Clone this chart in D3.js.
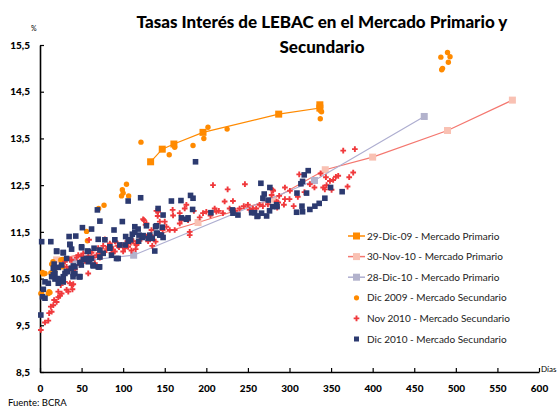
<!DOCTYPE html>
<html>
<head>
<meta charset="utf-8">
<script src="https://cdn.jsdelivr.net/npm/d3@7"></script>
<style>
  body { margin: 0; background: #fff; }
  svg { font-family: "Lato", "DejaVu Sans", sans-serif; }
</style>
</head>
<body>
<div id="container"></div>
<script>
// plazo (dias), tasa (%)
const primDic09 = [[133, 13.0], [147, 13.27], [161, 13.38], [196, 13.63], [287, 14.02], [336.5, 14.15], [336.5, 14.22]];
const primNov10 = [[20, 10.9], [110, 11.28], [190, 11.7], [280, 12.2], [343, 12.83], [400, 13.1], [490, 13.67], [568, 14.32]];
const primDic10 = [[42, 10.86], [112.6, 11.0], [330, 12.6], [462, 13.97]];

const secDic09 = [[482, 15.24], [490, 15.34], [493, 15.25], [491, 15.13], [484, 15.0], [483, 14.97],
  [121.4, 13.42], [155.4, 13.15], [162, 13.31], [184, 13.35], [197, 13.5], [202, 13.74], [225, 13.7],
  [337, 14.1], [338.5, 14.07], [337, 13.92], [104, 12.52], [99, 12.4], [98, 12.27], [106.6, 12.27],
  [100, 12.33], [77, 12.07], [70.5, 12.0], [56, 11.51], [57, 11.31], [27, 10.91], [14, 10.81],
  [3, 10.63], [6, 10.61], [4, 10.6], [13, 10.62], [1, 10.18], [12, 10.2], [10, 10.18], [40, 10.68],
  [15.6, 10.86], [25, 10.9], [23.7, 10.75], [27.6, 10.75], [17.6, 10.65], [2, 10.18], [11, 10.22]];

const secNov10 = [[1, 9.4], [6, 9.56], [10, 9.6], [11, 9.76], [14, 9.79], [13, 9.9], [16, 9.93], [17, 10.04],
  [20, 10.0], [22, 10.1], [24, 10.13], [22, 10.22], [26, 10.18], [32, 10.26], [34, 10.22], [36, 10.4],
  [38, 10.36], [30, 10.43], [40, 10.38], [39, 10.27], [58, 10.61], [48, 10.79], [25, 10.36], [36, 10.72],
  [42, 10.7], [30, 10.86], [38, 10.9], [46, 11.0], [52, 11.04], [58, 10.98], [60, 11.08], [68, 11.0],
  [72, 11.02], [70, 11.15], [76, 11.2], [80, 11.11], [84, 11.25], [90, 11.3], [94, 11.2], [90, 11.08],
  [100, 11.08], [106, 11.18], [115, 11.13], [116, 11.22], [122, 11.35], [125, 11.75], [128, 11.68],
  [134, 11.54], [135, 11.2], [140, 11.95], [141.5, 11.84], [144, 11.72], [147.5, 11.54], [150, 11.72],
  [152, 11.61], [156, 11.54], [159.5, 11.97], [162, 11.54], [168, 11.9], [170, 11.75], [168, 11.68],
  [174, 12.0], [176, 12.08], [178, 11.75], [180, 11.5], [180, 11.43], [192, 11.81], [196, 11.9],
  [200, 11.93], [208, 12.5], [210, 12.0], [212, 11.93], [220, 11.9], [222, 12.15], [225.6, 12.41],
  [228, 12.0], [232, 12.16], [240, 12.0], [246.4, 12.52], [250, 12.08], [252, 11.97], [256, 12.0],
  [264, 12.08], [274, 12.09], [278.5, 12.29], [279.6, 12.4], [284.5, 12.15], [287.6, 12.27],
  [294.5, 12.45], [300.5, 12.38], [280.4, 12.38], [294.5, 12.2], [286.4, 12.13], [293.3, 12.08],
  [285.2, 12.02], [311.7, 12.73], [324.5, 12.52], [337.4, 12.75], [343.8, 12.67], [348.6, 12.59],
  [352.5, 12.61], [355.8, 12.68], [358.6, 12.7], [340.5, 12.45], [342.5, 12.41], [344.6, 12.5],
  [350.6, 12.4], [364.6, 13.24], [378.6, 13.27], [371.8, 12.67], [376.6, 12.77], [369.8, 12.47],
  [59, 11.33], [78, 11.34], [91, 11.29], [95, 11.17], [109, 11.27], [116, 11.24], [124, 11.77],
  [127, 11.65], [133, 11.43], [139, 11.29], [142, 11.93], [48, 10.86], [50, 10.98], [32, 10.75],
  [36, 10.9], [66, 10.83], [72, 10.95], [56, 10.9], [64, 10.95], [86, 11.05], [105, 11.3], [110, 11.1],
  [160, 11.85], [185, 11.95], [205, 11.85], [215, 11.95], [235, 11.95], [245, 12.05], [260, 12.0],
  [268, 12.05], [300, 12.2], [305, 12.05], [310, 12.25], [318, 12.35], [330, 12.45], [44, 10.95],
  [54, 10.88], [62, 11.05], [74, 11.05], [82, 11.18], [88, 11.12], [98, 11.22], [102, 11.15],
  [112, 11.3], [118, 11.28], [128, 11.4], [130, 11.3]];

const secDic10 = [[187, 13.0], [106, 12.16], [121, 12.23], [69, 11.97], [72, 11.73], [2, 11.29], [20, 11.09],
  [28, 11.05], [35, 11.4], [43, 11.41], [51, 11.59], [62, 11.56], [36, 11.23], [38, 11.13], [50, 11.18],
  [58, 11.08], [65, 11.15], [70, 11.34], [78, 11.33], [89, 11.54], [90, 11.33], [99, 11.72], [103, 11.4],
  [114, 11.61], [111, 11.45], [109, 11.33], [96, 11.22], [84, 11.18], [72, 11.11], [72, 10.96],
  [76, 11.04], [86, 11.0], [92, 10.93], [62, 10.93], [58, 10.86], [52, 10.91], [48, 10.84], [64, 10.77],
  [71, 10.75], [42, 10.75], [32, 10.93], [26, 10.79], [16, 10.72], [18, 10.61], [118, 11.56],
  [119, 11.43], [123, 11.38], [128, 11.63], [132, 11.43], [135, 11.36], [138, 11.09], [139, 11.61],
  [141, 11.47], [146, 11.43], [147, 11.6], [148, 11.86], [142, 12.0], [158, 12.16], [170, 11.8],
  [178, 11.8], [181, 12.28], [184, 12.22], [176, 11.77], [205.5, 11.91], [231.5, 11.97], [232, 11.9],
  [238, 11.86], [258, 11.91], [265.6, 12.54], [269.6, 12.31], [268, 12.22], [262, 11.84], [272.5, 11.84],
  [276, 11.95], [284.5, 12.08], [13, 11.29], [17, 10.81], [22, 10.74], [16, 10.58], [10, 10.4],
  [18, 10.49], [4, 10.27], [3, 10.11], [6, 10.08], [1, 9.72], [28, 10.43], [33, 10.65], [40, 10.77],
  [42, 10.61], [47, 10.54], [70, 10.75], [6, 10.43], [22, 10.4], [26, 10.47], [28, 10.54], [30, 10.61],
  [40, 10.6], [48, 10.54], [276.4, 12.45], [279.7, 12.04], [308.5, 11.92], [315.7, 11.93], [315, 12.05],
  [324.5, 11.98], [330.5, 12.05], [335.7, 12.11], [342.5, 12.22], [309, 12.33], [320.5, 12.33],
  [313.7, 12.53], [315.7, 12.58], [317.7, 12.72], [322.5, 12.81], [349.4, 12.45], [363.3, 12.36],
  [183.5, 11.98], [254.5, 11.91], [261, 11.83], [266.4, 11.9], [274.4, 12.18], [285, 12.04], [140, 11.63],
  [144, 11.43], [148, 11.38], [169.5, 12.17], [20, 11.08], [28, 11.06], [36, 11.23], [50, 11.16],
  [57, 11.09], [84, 11.15], [94, 10.93], [102.6, 11.22], [106, 11.3], [114, 11.49], [118.6, 11.3],
  [124, 11.42], [130, 11.36], [140, 11.47], [16.8, 10.72], [14, 10.54], [21.6, 10.5], [31.6, 10.65],
  [37.6, 10.72], [47.7, 10.54], [39.7, 10.54], [49.7, 10.79], [55.7, 10.93], [59.7, 10.9], [71.7, 10.75],
  [63.7, 10.79]];

const xTicks = [0, 50, 100, 150, 200, 250, 300, 350, 400, 450, 500, 550, 600];
const yTicks = [8.5, 9.5, 10.5, 11.5, 12.5, 13.5, 14.5, 15.5];

const legendLabels = ["29-Dic-09 - Mercado Primario", "30-Nov-10 - Mercado Primario", "28-Dic-10 - Mercado Primario",
  "Dic 2009  - Mercado Secundario", "Nov 2010 - Mercado Secundario", "Dic 2010 - Mercado Secundario"];

const w = 560;
const h = 409;

const svg = d3.select("#container").append("svg")
  .attr("width", w)
  .attr("height", h);

const x = d3.scaleLinear().domain([0, 600]).range([40, 539]);
const y = d3.scaleLinear().domain([8.5, 15.5]).range([372, 45]);

// titulo
svg.append("text")
  .attr("x", 322).attr("y", 28)
  .attr("text-anchor", "middle")
  .style("font-size", "17px").style("font-weight", "900")
  .text("Tasas Interés de LEBAC en el Mercado Primario y");
svg.append("text")
  .attr("x", 322).attr("y", 53)
  .attr("text-anchor", "middle")
  .style("font-size", "17px").style("font-weight", "900")
  .text("Secundario");

// ejes
const xAxis = svg.append("g")
  .attr("transform", "translate(0,372)")
  .call(d3.axisBottom(x).tickValues(xTicks).tickSize(-4).tickSizeOuter(0).tickPadding(13));
const yAxis = svg.append("g")
  .attr("transform", "translate(40,0)")
  .call(d3.axisLeft(y).tickValues(yTicks).tickSize(-4).tickSizeOuter(0).tickPadding(10)
    .tickFormat(d => d3.format(".1f")(d).replace(".", ",")));

[xAxis, yAxis].forEach(a => {
  a.select(".domain").attr("stroke", "#000").attr("stroke-width", 1.6);
  a.selectAll(".tick line").attr("stroke", "#000").attr("stroke-width", 1.2);
  a.selectAll(".tick text")
    .attr("fill", "#000")
    .style("font-family", "Lato, sans-serif")
    .style("font-size", "10px").style("font-weight", "900");
});

svg.append("text").attr("x", 31).attr("y", 31)
  .style("font-size", "7px").text("%");
svg.append("text").attr("x", 541).attr("y", 372)
  .style("font-size", "8px").text("Días");
svg.append("text").attr("x", 8).attr("y", 406)
  .style("font-size", "9.5px").text("Fuente: BCRA");

// mercado primario
const line = d3.line().x(d => x(d[0])).y(d => y(d[1]));

const primary = [
  { data: primDic09, line: "#ff8a00", fill: "#ff8a00", size: 7 },
  { data: primNov10, line: "#f4776f", fill: "#f9c1b3", size: 7 },
  { data: primDic10, line: "#aeaed0", fill: "#b2b2cc", size: 7 }
];

primary.forEach(s => {
  svg.append("path")
    .datum(s.data)
    .attr("fill", "none")
    .attr("stroke", s.line)
    .attr("stroke-width", 1.2)
    .attr("d", line);
  svg.selectAll(null)
    .data(s.data)
    .enter().append("rect")
    .attr("x", d => x(d[0]) - s.size / 2)
    .attr("y", d => y(d[1]) - s.size / 2)
    .attr("width", s.size)
    .attr("height", s.size)
    .attr("fill", s.fill);
});

// mercado secundario
svg.selectAll(".dic09")
  .data(secDic09)
  .enter().append("circle")
  .attr("class", "dic09")
  .attr("cx", d => x(d[0]))
  .attr("cy", d => y(d[1]))
  .attr("r", 2.7)
  .attr("fill", "#ff8a00");

const cross = d3.symbol().type(d3.symbolCross).size(18);
svg.selectAll(".nov10")
  .data(secNov10)
  .enter().append("path")
  .attr("class", "nov10")
  .attr("transform", d => `translate(${x(d[0])},${y(d[1])})`)
  .attr("d", cross)
  .attr("fill", "#f0393c");

svg.selectAll(".dic10")
  .data(secDic10)
  .enter().append("rect")
  .attr("class", "dic10")
  .attr("x", d => x(d[0]) - 2.8)
  .attr("y", d => y(d[1]) - 2.8)
  .attr("width", 5.6)
  .attr("height", 5.6)
  .attr("fill", "#2c3a70");

// leyenda
const legend = svg.append("g").attr("transform", "translate(348,236)");
legendLabels.forEach((label, i) => {
  const g = legend.append("g").attr("transform", `translate(0,${i * 20.6})`);
  if (i < 3) {
    g.append("line").attr("x1", 0).attr("x2", 17).attr("y1", 0).attr("y2", 0)
      .attr("stroke", primary[i].line).attr("stroke-width", 1.5);
    g.append("rect").attr("x", 5).attr("y", -3.5).attr("width", 7).attr("height", 7)
      .attr("fill", primary[i].fill);
  } else if (i === 3) {
    g.append("circle").attr("cx", 8.5).attr("cy", 0).attr("r", 2.6).attr("fill", "#ff8a00");
  } else if (i === 4) {
    g.append("path").attr("transform", "translate(8.5,0)").attr("d", cross).attr("fill", "#f0393c");
  } else {
    g.append("rect").attr("x", 6).attr("y", -2.5).attr("width", 5).attr("height", 5).attr("fill", "#2c3a70");
  }
  g.append("text").attr("x", 19).attr("y", 3.5)
    .style("font-size", "10px").attr("fill", "#222")
    .text(label);
});
</script>
</body>
</html>
